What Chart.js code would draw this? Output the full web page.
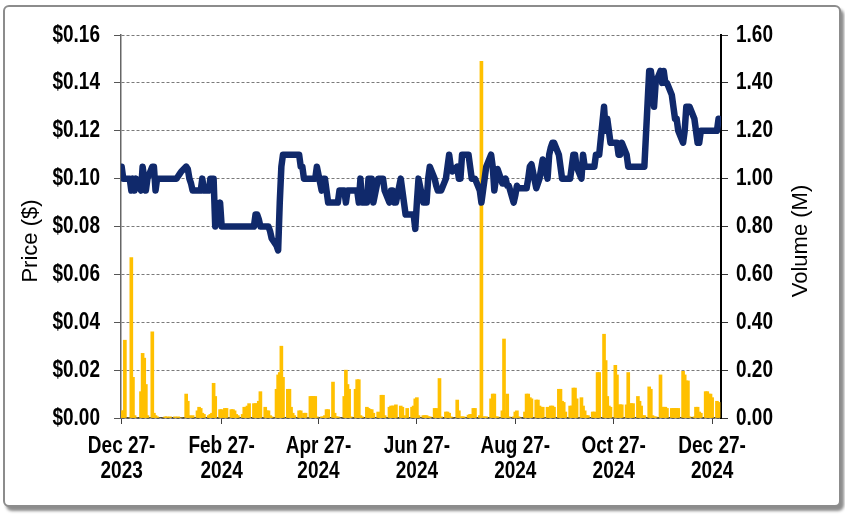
<!DOCTYPE html>
<html>
<head>
<meta charset="utf-8">
<script src="https://cdn.jsdelivr.net/npm/chart.js@4.4.1/dist/chart.umd.min.js"></script>
<style>
  html, body { margin: 0; padding: 0; background: #fff; }
  #frame {
    position: absolute; left: 3px; top: 5px; width: 834px; height: 498px;
    border: 2px solid #8c8c8c; border-radius: 6px;
    box-shadow: 3px 4px 3px rgba(0,0,0,0.45); background: #fff;
  }
  #chart { position: absolute; left: 0; top: 0; }
</style>
</head>
<body>
<div id="frame"></div>
<canvas id="chart" width="845" height="520"></canvas>
<script>
// trading days start Wed Dec 27 2023 (day 0), end Tue Dec 31 2024 (day 370)
const firstDay = 0;
const lastDay = 370;

// x ticks, in days after Dec 27 2023
const tickDays = [0, 62, 122, 183, 244, 305, 366];
const tickLabels = [
  ['Dec 27-', '2023'], ['Feb 27-', '2024'], ['Apr 27-', '2024'], ['Jun 27-', '2024'],
  ['Aug 27-', '2024'], ['Oct 27-', '2024'], ['Dec 27-', '2024']
];

// closing price ($), one per weekday, rows are weeks
const prices = [
  0.105, 0.100, 0.100,
  0.100, 0.095, 0.100, 0.095, 0.100,
  0.095, 0.105, 0.100, 0.095, 0.100,
  0.105, 0.105, 0.095, 0.100, 0.100,
  0.100, 0.100, 0.100, 0.100, 0.100,
  0.100, 0.100, 0.101, 0.102, 0.103,
  0.105, 0.104, 0.100, 0.098, 0.095,
  0.095, 0.095, 0.095, 0.100, 0.095,
  0.095, 0.100, 0.100, 0.100, 0.080,
  0.090, 0.080, 0.080, 0.080, 0.080,
  0.080, 0.080, 0.080, 0.080, 0.080,
  0.080, 0.080, 0.080, 0.080, 0.080,
  0.080, 0.085, 0.085, 0.083, 0.080,
  0.080, 0.080, 0.080, 0.078, 0.075,
  0.072, 0.070, 0.090, 0.105, 0.110,
  0.110, 0.110, 0.110, 0.110, 0.110,
  0.110, 0.105, 0.105, 0.100, 0.100,
  0.100, 0.100, 0.100, 0.100, 0.105,
  0.095, 0.100, 0.100, 0.095, 0.090,
  0.090, 0.090, 0.090, 0.090, 0.095,
  0.095, 0.090, 0.095, 0.095, 0.095,
  0.095, 0.095, 0.090, 0.100, 0.090,
  0.090, 0.100, 0.100, 0.100, 0.090,
  0.100, 0.100, 0.100, 0.100, 0.095,
  0.090, 0.095, 0.095, 0.090, 0.090,
  0.100, 0.095, 0.090, 0.085, 0.085,
  0.085, 0.085, 0.079, 0.090, 0.100,
  0.090, 0.090, 0.090, 0.100, 0.105,
  0.100, 0.097, 0.095, 0.095, 0.095,
  0.100, 0.105, 0.110, 0.105, 0.103,
  0.105, 0.100, 0.100, 0.110, 0.110,
  0.110, 0.105, 0.100, 0.100, 0.100,
  0.095, 0.090, 0.095, 0.100, 0.105,
  0.110, 0.105, 0.095, 0.100, 0.104,
  0.098, 0.098, 0.100, 0.097, 0.097,
  0.090, 0.093, 0.097, 0.096, 0.096,
  0.096, 0.096, 0.100, 0.105, 0.106,
  0.096, 0.098, 0.100, 0.104, 0.108,
  0.100, 0.110, 0.113, 0.115, 0.115,
  0.110, 0.105, 0.100, 0.100, 0.100,
  0.100, 0.105, 0.110, 0.110, 0.105,
  0.100, 0.110, 0.105, 0.105, 0.105,
  0.105, 0.105, 0.110, 0.110, 0.110,
  0.130, 0.120, 0.125, 0.120, 0.115,
  0.115, 0.115, 0.110, 0.110, 0.115,
  0.110, 0.105, 0.105, 0.105, 0.105,
  0.105, 0.105, 0.105, 0.105, 0.105,
  0.145, 0.145, 0.140, 0.130, 0.140,
  0.145, 0.140, 0.145, 0.140, 0.140,
  0.135, 0.130, 0.125, 0.125, 0.120,
  0.115, 0.120, 0.130, 0.130, 0.130,
  0.125, 0.120, 0.115, 0.115, 0.120,
  0.120, 0.120, 0.120, 0.120, 0.120,
  0.120, 0.125
];

// volume (millions of shares), same days
const volumes = [
  0.03, 0.03, 0.325,
  0.0, 0.67, 0.17, 0.01, 0.0,
  0.11, 0.27, 0.25, 0.14, 0.01,
  0.36, 0.02, 0.01, 0.005, 0.0,
  0.0, 0.005, 0.005, 0.0, 0.005,
  0.005, 0.0, 0.005, 0.0, 0.0,
  0.10, 0.07, 0.01, 0.0, 0.01,
  0.03, 0.045, 0.04, 0.02, 0.015,
  0.01, 0.015, 0.02, 0.145, 0.09,
  0.035, 0.035, 0.03, 0.04, 0.04,
  0.035, 0.035, 0.03, 0.015, 0.01,
  0.015, 0.045, 0.045, 0.05, 0.06,
  0.06, 0.06, 0.06, 0.07, 0.11,
  0.045, 0.03, 0.03, 0.01, 0.005,
  0.12, 0.18, 0.19, 0.30, 0.17,
  0.12, 0.12, 0.045, 0.02, 0.01,
  0.03, 0.03, 0.0, 0.02, 0.02,
  0.09, 0.09, 0.09, 0.09, 0.005,
  0.005, 0.005, 0.01, 0.035, 0.035,
  0.15, 0.02, 0.005, 0.005, 0.0,
  0.09, 0.20, 0.14, 0.12, 0.005,
  0.12, 0.16, 0.16, 0.01, 0.005,
  0.045, 0.04, 0.035, 0.035, 0.02,
  0.025, 0.02, 0.095, 0.095, 0.01,
  0.045, 0.05, 0.05, 0.05, 0.055,
  0.05, 0.045, 0.005, 0.01, 0.04,
  0.045, 0.05, 0.08, 0.085, 0.01,
  0.01, 0.01, 0.01, 0.005, 0.005,
  0.04, 0.04, 0.01, 0.165, 0.005,
  0.025, 0.025, 0.02, 0.005, 0.0,
  0.075, 0.03, 0.005, 0.005, 0.005,
  0.012, 0.015, 0.015, 0.04, 0.04,
  0.01, 1.49, 0.005, 0.005, 0.005,
  0.08, 0.10, 0.10, 0.005, 0.005,
  0.03, 0.33, 0.02, 0.10, 0.005,
  0.005, 0.025, 0.03, 0.005, 0.0,
  0.025, 0.10, 0.10, 0.085, 0.08,
  0.075, 0.075, 0.05, 0.045, 0.045,
  0.045, 0.03, 0.05, 0.05, 0.045,
  0.12, 0.12, 0.07, 0.065, 0.025,
  0.05, 0.05, 0.125, 0.125, 0.08,
  0.085, 0.05, 0.03, 0.01, 0.01,
  0.025, 0.025, 0.02, 0.19, 0.19,
  0.35, 0.24, 0.09, 0.05, 0.045,
  0.22, 0.18, 0.055, 0.055, 0.055,
  0.055, 0.19, 0.06, 0.06, 0.06,
  0.09, 0.07, 0.05, 0.01, 0.01,
  0.13, 0.12, 0.01, 0.005, 0.005,
  0.18, 0.045, 0.045, 0.045, 0.04,
  0.04, 0.04, 0.04, 0.04, 0.04,
  0.195, 0.18, 0.155, 0.155, 0.005,
  0.005, 0.045, 0.045, 0.025, 0.02,
  0.11, 0.11, 0.10, 0.10, 0.085,
  0.07, 0.065
];

// weekdays only (day 0 is a Wednesday)
const days = [];
for (let d = firstDay; d <= lastDay; d++) {
  const wd = (d + 2) % 7;
  if (wd < 5) days.push(d);
}

const priceData = days.map((d, i) => ({ x: d, y: prices[i] }));
const volumeData = days.map((d, i) => ({ x: d, y: volumes[i] }));

// the source picture is stretched vertically, so tick text is drawn taller than wide
const stretch = 1.25;
const labelFont = 'bold 19px "Liberation Sans", Arial, sans-serif';
const titleFont = '22px "Liberation Sans", Arial, sans-serif';

function drawText(ctx, text, px, py, rotation, sy) {
  ctx.save();
  ctx.translate(px, py);
  if (rotation) ctx.rotate(rotation);
  ctx.scale(1, sy);
  ctx.fillText(text, 0, 0);
  ctx.restore();
}

const axisText = {
  id: 'axisText',
  afterDraw(chart) {
    const ctx = chart.ctx;
    const { x, y, y1 } = chart.scales;
    ctx.save();
    ctx.fillStyle = '#000';
    ctx.textBaseline = 'middle';
    ctx.font = labelFont;

    ctx.textAlign = 'right';
    y.ticks.forEach(t => drawText(ctx, '$' + t.value.toFixed(2), 100, y.getPixelForValue(t.value), 0, stretch));

    ctx.textAlign = 'left';
    y1.ticks.forEach(t => drawText(ctx, t.value.toFixed(2), 736, y1.getPixelForValue(t.value), 0, stretch));

    ctx.textAlign = 'center';
    x.ticks.forEach((t, i) => {
      const px = x.getPixelForValue(t.value);
      drawText(ctx, tickLabels[i][0], px, 446, 0, stretch);
      drawText(ctx, tickLabels[i][1], px, 471, 0, stretch);
    });

    ctx.font = titleFont;
    drawText(ctx, 'Price ($)', 31, 241, -Math.PI / 2, 1);
    drawText(ctx, 'Volume (M)', 801, 241, -Math.PI / 2, 1);
    ctx.restore();
  }
};

new Chart(document.getElementById('chart'), {
  type: 'bar',
  data: {
    datasets: [
      {
        type: 'line',
        label: 'Price',
        data: priceData,
        yAxisID: 'y',
        borderColor: '#10296B',
        borderWidth: 6.5,
        borderJoinStyle: 'round',
        borderCapStyle: 'round',
        pointRadius: 0,
        tension: 0,
        order: 0
      },
      {
        type: 'bar',
        label: 'Volume',
        data: volumeData,
        yAxisID: 'y1',
        backgroundColor: '#FFC000',
        barThickness: 3,
        order: 1
      }
    ]
  },
  options: {
    responsive: false,
    animation: false,
    devicePixelRatio: 1,
    layout: { padding: { top: 35, bottom: 0, left: 0, right: 0 } },
    plugins: { legend: { display: false }, tooltip: { enabled: false } },
    scales: {
      x: {
        type: 'linear',
        min: -0.4,
        max: 371.5,
        offset: false,
        grid: { offset: false, drawOnChartArea: false, tickLength: 6, color: '#404040' },
        border: { color: '#404040', width: 1.5 },
        afterBuildTicks: (scale) => { scale.ticks = tickDays.map(v => ({ value: v })); },
        afterFit: (scale) => { scale.height = 102; },
        ticks: { display: false, autoSkip: false, maxRotation: 0 }
      },
      y: {
        position: 'left',
        min: 0,
        max: 0.16,
        afterFit: (scale) => { scale.width = 121; },
        grid: { color: '#7a7a7a', tickLength: 7, tickColor: '#555' },
        border: { color: '#666', width: 1.5, dash: [3, 2] },
        ticks: { display: false, stepSize: 0.02 }
      },
      y1: {
        position: 'right',
        min: 0,
        max: 1.6,
        afterFit: (scale) => { scale.width = 124; },
        grid: { drawOnChartArea: false, tickLength: 7, color: '#333' },
        border: { color: '#000', width: 2 },
        ticks: { display: false, stepSize: 0.2 }
      }
    }
  },
  plugins: [axisText]
});
</script>
</body>
</html>
